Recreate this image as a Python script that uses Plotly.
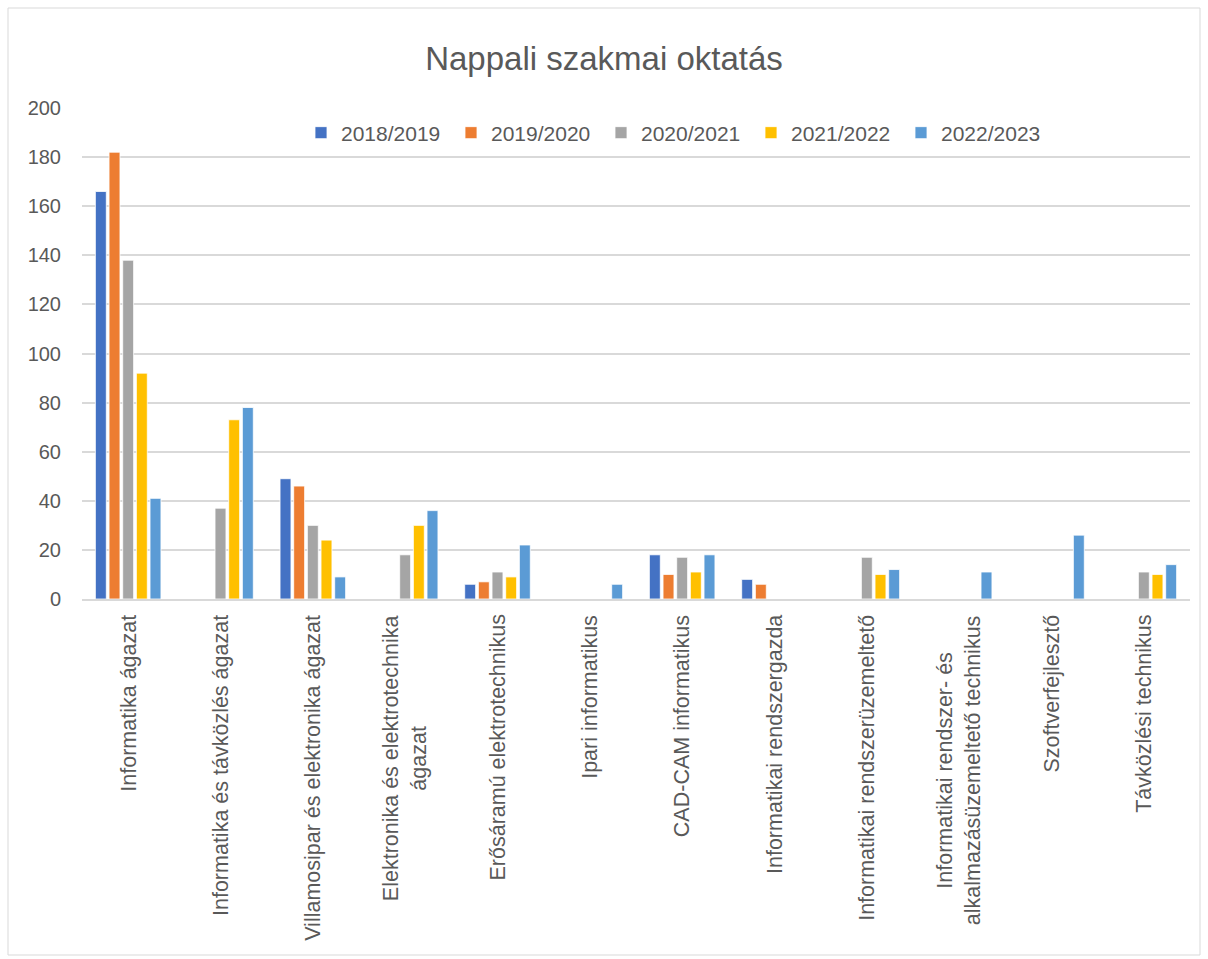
import plotly.graph_objects as go

categories = [
    "Informatika ágazat",
    "Informatika és távközlés ágazat",
    "Villamosipar és elektronika ágazat",
    "Elektronika és elektrotechnika<br>ágazat",
    "Erősáramú elektrotechnikus",
    "Ipari informatikus",
    "CAD-CAM informatikus",
    "Informatikai rendszergazda",
    "Informatikai rendszerüzemeltető",
    "Informatikai rendszer- és<br>alkalmazásüzemeltető technikus",
    "Szoftverfejlesztő",
    "Távközlési technikus",
]

series_names = ["2018/2019", "2019/2020", "2020/2021", "2021/2022", "2022/2023"]
v2018 = [166, 0, 49, 0, 6, 0, 18, 8, 0, 0, 0, 0]
v2019 = [182, 0, 46, 0, 7, 0, 10, 6, 0, 0, 0, 0]
v2020 = [138, 37, 30, 18, 11, 0, 17, 0, 17, 0, 0, 11]
v2021 = [92, 73, 24, 30, 9, 0, 11, 0, 10, 0, 0, 10]
v2022 = [41, 78, 9, 36, 22, 6, 18, 0, 12, 11, 26, 14]
colors = ["#4472C4", "#ED7D31", "#A5A5A5", "#FFC000", "#5B9BD5"]

y_ticks = [0, 20, 40, 60, 80, 100, 120, 140, 160, 180, 200]

fig = go.Figure()
for name, vals, col in zip(series_names, [v2018, v2019, v2020, v2021, v2022], colors):
    fig.add_trace(go.Bar(
        x=categories, y=[v if v else None for v in vals], name=name,
        marker=dict(color=col, line=dict(color="white", width=0.8)),
    ))

W, H = 1208, 959
L, R, T, B = 82, 18, 108, 360
pw, ph = W - L - R, H - T - B

def px_x(p):
    return (p - L) / pw

def px_y(p):
    return (H - B - p) / ph

# category labels as rotated, centre-aligned annotations
for c in categories:
    fig.add_annotation(x=c, xref="x", y=0, yref="paper", yshift=-14,
                       text=c, textangle=-90, showarrow=False,
                       xanchor="center", yanchor="top", align="center",
                       font=dict(size=21.5, color="#595959"))

fig.update_layout(
    width=W, height=H,
    margin=dict(l=L, r=R, t=T, b=B),
    paper_bgcolor="white", plot_bgcolor="white",
    font=dict(family="Liberation Sans, Arial, sans-serif", color="#595959", size=18),
    title=dict(text="Nappali szakmai oktatás", x=0.5, xanchor="center",
               y=1 - 58 / H, yanchor="middle",
               font=dict(size=33, color="#595959")),
    barmode="group", bargap=0.26, bargroupgap=0.2,
    showlegend=True,
    legend=dict(orientation="h", x=px_x(301), xanchor="left",
                y=px_y(133), yanchor="middle",
                font=dict(size=21, color="#595959"), itemwidth=30,
                entrywidth=105, entrywidthmode="pixels",
                bgcolor="rgba(0,0,0,0)"),
    xaxis=dict(showgrid=False, showline=True, linecolor="#d9d9d9",
               linewidth=1.5, ticks="", showticklabels=False),
    yaxis=dict(range=[0, 200], tickvals=y_ticks, showgrid=True, gridcolor="#d9d9d9",
               gridwidth=1.5, zeroline=False, showline=False, ticks="",
               ticklabelstandoff=20,
               tickfont=dict(size=20, color="#595959")),
    shapes=[dict(type="rect", xref="paper", yref="paper",
                 x0=px_x(8), x1=px_x(1200), y0=px_y(955), y1=px_y(8),
                 line=dict(color="#d9d9d9", width=1), layer="below")],
)

fig.write_html("out.html", config={"displayModeBar": False},
               post_script="document.body.style.margin='0';")
